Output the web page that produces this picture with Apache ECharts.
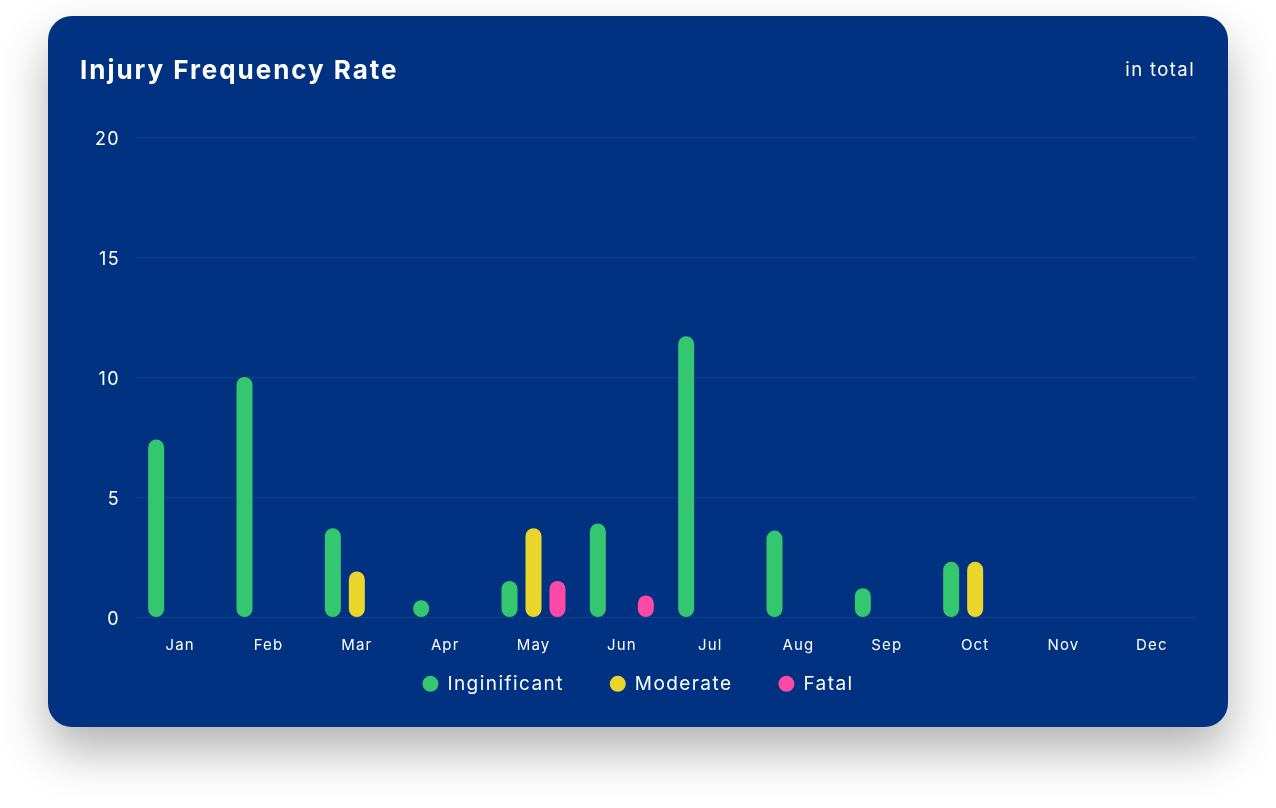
<!DOCTYPE html>
<html>
<head>
<meta charset="utf-8">
<script src="https://cdn.jsdelivr.net/npm/echarts@6/dist/echarts.min.js"></script>
<style>
  html, body { margin: 0; padding: 0; background: #ffffff; width: 1276px; height: 808px; overflow: hidden; }
  #card {
    position: absolute; left: 48px; top: 16px; width: 1180px; height: 711px;
    background: #013282; border-radius: 24px;
    box-shadow: 0 24px 48px rgba(0,0,0,0.30);
  }
  #chart { position: absolute; left: 0; top: 0; width: 1180px; height: 711px; }
</style>
</head>
<body>
<div id="card"><div id="chart"></div></div>
<script>
// small tracking like the reference typography (applies to canvas text drawing and measuring)
(function () {
  const P = CanvasRenderingContext2D.prototype;
  if (!('letterSpacing' in P)) return;
  const setLS = function (ctx) {
    const m = /(\d+(?:\.\d+)?)px/.exec(ctx.font || '');
    const size = m ? parseFloat(m[1]) : 12;
    ctx.letterSpacing = (size * 0.075).toFixed(2) + 'px';
  };
  const oFill = P.fillText, oMeasure = P.measureText, oStroke = P.strokeText;
  P.fillText = function () { setLS(this); return oFill.apply(this, arguments); };
  P.strokeText = function () { setLS(this); return oStroke.apply(this, arguments); };
  P.measureText = function () { setLS(this); return oMeasure.apply(this, arguments); };
})();

const months = ['Jan','Feb','Mar','Apr','May','Jun','Jul','Aug','Sep','Oct','Nov','Dec'];
const insignificant = [7.4, 10, 3.7, 0.7, 1.5, 3.9, 11.7, 3.6, 1.2, 2.3, null, null];
const moderate = [null, null, 1.9, null, 3.7, null, null, null, null, 2.3, null, null];
const fatal = [null, null, null, null, 1.5, 0.9, null, null, null, null, null, null];
const seriesNames = ['Inginificant', 'Moderate', 'Fatal'];
const colors = ['#35C76F', '#EAD52B', '#FF49A6'];

const chart = echarts.init(document.getElementById('chart'));
const font = 'Inter, "Noto Sans", sans-serif';
const mk = (name, data, color) => ({
  name, type: 'bar', data, barWidth: 16, barGap: '50%',
  itemStyle: { color, borderRadius: 8 }
});
chart.setOption({
  backgroundColor: 'transparent',
  textStyle: { fontFamily: font },
  title: [
    { text: 'Injury Frequency Rate', left: 27, top: 36,
      textStyle: { color: '#ffffff', fontSize: 26, fontWeight: 700, fontFamily: font } },
    { text: 'in total', right: 28, top: 39,
      textStyle: { color: '#ffffff', fontSize: 18.5, fontWeight: 400, fontFamily: font } }
  ],
  color: colors,
  legend: {
    bottom: 28, left: 'center', itemWidth: 16, itemHeight: 16, itemGap: 46, icon: 'circle',
    textStyle: { color: '#ffffff', fontSize: 19, fontFamily: font, padding: [0, 0, 0, 4] },
    data: seriesNames
  },
  grid: { left: 88, right: 32, top: 121, bottom: 110, containLabel: false },
  xAxis: {
    type: 'category', data: months,
    axisLine: { show: false }, axisTick: { show: false },
    axisLabel: { color: '#ffffff', fontSize: 15, margin: 20, fontFamily: font }
  },
  yAxis: {
    type: 'value', min: 0, max: 20, interval: 5,
    axisLine: { show: false }, axisTick: { show: false },
    axisLabel: { color: '#ffffff', fontSize: 18, margin: 16, fontFamily: font, verticalAlign: 'top', lineHeight: 6 },
    splitLine: { lineStyle: { color: 'rgba(255,255,255,0.07)', width: 1 } }
  },
  series: [
    mk(seriesNames[0], insignificant, colors[0]),
    mk(seriesNames[1], moderate, colors[1]),
    mk(seriesNames[2], fatal, colors[2])
  ]
});
</script>
</body>
</html>
